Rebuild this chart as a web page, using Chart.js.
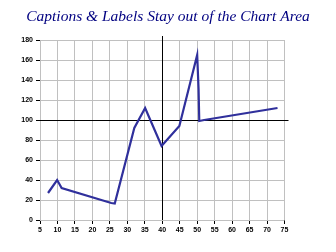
<!DOCTYPE html>
<html>
<head>
<meta charset="utf-8">
<script src="https://cdn.jsdelivr.net/npm/chart.js@4/dist/chart.umd.min.js"></script>
<style>
  html, body { margin: 0; padding: 0; background: #fff; }
  #wrap { width: 336px; height: 252px; }
</style>
</head>
<body>
<div id="wrap"><canvas id="chart" width="336" height="252"></canvas></div>
<script>
'use strict';

// values
var xValues = [7.3, 9.9, 11.2, 25.4, 26.4, 32.0, 35.1, 39.8, 44.9, 50.0, 50.4, 50.6, 52.0, 73.0];
var yValues = [27, 40, 32, 17, 16.5, 92, 112, 74, 94, 165, 131, 99, 100, 112];

// where the two black axis lines cross
var crossX = 40;
var crossY = 100;

var xMin = 5, xMax = 75, xStep = 5;
var yMin = 0, yMax = 180, yStep = 20;

var points = [];
for (var i = 0; i < xValues.length; i++) {
  points.push({ x: xValues[i], y: yValues[i] });
}

var tickFont = { family: 'Liberation Sans', size: 7, weight: 'bold' };

// the black cross lines run a few px past the plot on top and right
var crossLines = {
  id: 'crossLines',
  beforeDatasetsDraw: function (chart) {
    var c = chart.ctx, a = chart.chartArea;
    var px = chart.scales.x.getPixelForValue(crossX);
    var py = chart.scales.y.getPixelForValue(crossY);
    c.save();
    c.strokeStyle = '#000';
    c.lineWidth = 1;
    c.beginPath();
    c.moveTo(Math.round(px) + 0.5, a.top - 4);
    c.lineTo(Math.round(px) + 0.5, a.bottom);
    c.moveTo(a.left, Math.round(py) + 0.5);
    c.lineTo(a.right + 4, Math.round(py) + 0.5);
    c.stroke();
    c.restore();
  }
};

var ctx = document.getElementById('chart');
var chart = new Chart(ctx, {
  type: 'line',
  data: {
    datasets: [{
      data: points,
      borderColor: '#30309c',
      borderWidth: 2.2,
      pointRadius: 0,
      tension: 0,
      fill: false
    }]
  },
  options: {
    responsive: false,
    animation: false,
    layout: { padding: 0 },
    plugins: {
      legend: { display: false },
      tooltip: { enabled: false },
      title: {
        display: true,
        text: 'Captions & Labels Stay out of the Chart Area',
        color: '#000080',
        font: { family: 'Liberation Serif', size: 15.5, style: 'italic', weight: 'normal', lineHeight: 1.2 },
        padding: { top: 8, bottom: 13.4 }
      }
    },
    scales: {
      x: {
        type: 'linear',
        min: xMin,
        max: xMax,
        border: { display: false },
        ticks: { stepSize: xStep, color: '#000', font: tickFont, padding: 2, maxRotation: 0 },
        grid: {
          color: function (c) { return c.tick && c.tick.value === crossX ? '#000' : '#c0c0c0'; },
          tickColor: '#000',
          tickLength: 4,
          lineWidth: 1
        },
        afterFit: function (scale) { scale.height = 32; }
      },
      y: {
        min: yMin,
        max: yMax,
        border: { display: false },
        ticks: { stepSize: yStep, color: '#000', font: tickFont, padding: 3 },
        grid: {
          color: function (c) { return c.tick && c.tick.value === crossY ? '#000' : '#c0c0c0'; },
          tickColor: '#000',
          tickLength: 4,
          lineWidth: 1
        },
        afterFit: function (scale) { scale.width = 40; }
      },
      // empty right-hand box that keeps the plot clear of the right edge
      yRight: {
        position: 'right',
        display: true,
        border: { display: false },
        grid: { display: false, drawTicks: false },
        ticks: { display: false },
        afterFit: function (scale) { scale.width = 51.5; }
      }
    }
  },
  plugins: [crossLines]
});
</script>
</body>
</html>
